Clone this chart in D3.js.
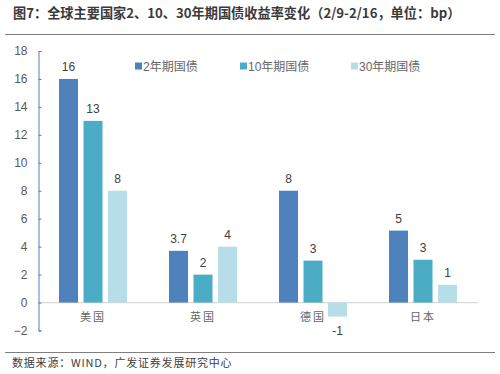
<!DOCTYPE html>
<html>
<head>
<meta charset="utf-8">
<script src="https://cdn.jsdelivr.net/npm/d3@7"></script>
<style>
  body { margin: 0; background: #fff; }
  svg { display: block; }
</style>
</head>
<body>
<svg></svg>
<script>
// data
let countries = ['美国', '英国', '德国', '日本']
let seriesNames = ['2年期国债', '10年期国债', '30年期国债']
let yr2 = [16, 3.7, 8, 5.15]
let yr10 = [13, 2, 3, 3.06]
let yr30 = [8, 4, -1, 1.27]
let labels2 = ['16', '3.7', '8', '5']
let labels10 = ['13', '2', '3', '3']
let labels30 = ['8', '4', '-1', '1']
let yTicks = [-2, 0, 2, 4, 6, 8, 10, 12, 14, 16, 18]

let colors = ['#4f81bd', '#4bacc6', '#b7dde8']
let width = 500
let height = 374

let svg = d3.select('svg').attr('width', width).attr('height', height)
let font = 'Liberation Sans, Arial, Noto Sans CJK SC, sans-serif'
let cjk = 'Noto Sans CJK SC, sans-serif'

// title and rules
svg.append('text')
  .attr('x', 13).attr('y', 18)
  .attr('font-family', cjk).attr('font-weight', 'bold')
  .attr('font-size', 13.2).attr('fill', '#3a3a3a')
  .text('图7：全球主要国家2、10、30年期国债收益率变化（2/9-2/16，单位：bp）')

svg.append('line').attr('x1', 5).attr('x2', 495).attr('y1', 34.5).attr('y2', 34.5)
  .attr('stroke', '#7f7f7f').attr('stroke-width', 1)
svg.append('line').attr('x1', 5).attr('x2', 495).attr('y1', 352.5).attr('y2', 352.5)
  .attr('stroke', '#7f7f7f').attr('stroke-width', 1)

svg.append('text')
  .attr('x', 12).attr('y', 367)
  .attr('font-family', cjk).attr('font-size', 11).attr('fill', '#404040')
  .attr('letter-spacing', 0.8)
  .text('数据来源：WIND，广发证券发展研究中心')

// scales
let xScale = d3.scaleBand().domain(countries).range([38, 478])
let x1 = d3.scaleBand().domain(seriesNames)
  .range([xScale.bandwidth() / 2 - 34, xScale.bandwidth() / 2 + 34])
  .paddingInner(0.224)
let yScale = d3.scaleLinear().domain([-2, 18]).range([330.5, 51])

// zero line
svg.append('line')
  .attr('x1', 38).attr('x2', 478)
  .attr('y1', yScale(0)).attr('y2', yScale(0))
  .attr('stroke', '#d9d9d9').attr('stroke-width', 1.3)

// y axis
let yAxis = d3.axisLeft(yScale).tickValues(yTicks).tickSizeInner(-3).tickSizeOuter(-3).tickPadding(11)
let gy = svg.append('g').attr('transform', 'translate(38.5,0)').call(yAxis)
gy.select('.domain').attr('stroke', '#4f81bd')
gy.selectAll('.tick line').attr('stroke', '#4f81bd')
gy.selectAll('.tick text').attr('font-family', font).attr('font-size', 12).attr('fill', '#595959')

// bars
let rows = countries.map((c, i) => ({
  country: c,
  vals: [yr2[i], yr10[i], yr30[i]],
  labs: [labels2[i], labels10[i], labels30[i]]
}))

let groups = svg.selectAll('.grp').data(rows).enter().append('g')
  .attr('transform', d => 'translate(' + xScale(d.country) + ',0)')

let cells = groups.selectAll('.cell')
  .data(d => d.vals.map((v, j) => ({ v: v, lab: d.labs[j], s: seriesNames[j], j: j })))
  .enter()

cells.append('rect')
  .attr('x', d => x1(d.s))
  .attr('width', x1.bandwidth())
  .attr('y', d => yScale(Math.max(0, d.v)))
  .attr('height', d => Math.abs(yScale(d.v) - yScale(0)))
  .attr('fill', d => colors[d.j])

cells.append('text')
  .attr('x', d => x1(d.s) + x1.bandwidth() / 2)
  .attr('y', d => d.v >= 0 ? yScale(d.v) - 8 : yScale(d.v) + 18)
  .attr('text-anchor', 'middle')
  .attr('font-family', font).attr('font-size', 12).attr('fill', '#404040')
  .text(d => d.lab)

// category labels
svg.selectAll('.cat').data(countries).enter().append('text')
  .attr('x', d => xScale(d) + xScale.bandwidth() / 2)
  .attr('y', 321)
  .attr('text-anchor', 'middle')
  .attr('font-family', cjk).attr('font-size', 11).attr('fill', '#666666')
  .attr('letter-spacing', 2)
  .text(d => d)

// legend
let legendX = [135, 240, 351]
let leg = svg.selectAll('.leg').data(seriesNames).enter().append('g')
  .attr('transform', (d, i) => 'translate(' + legendX[i] + ',66)')
leg.append('rect').attr('x', 0).attr('y', -3.5).attr('width', 7).attr('height', 7)
  .attr('fill', (d, i) => colors[i])
leg.append('text').attr('x', 8).attr('y', 4.5)
  .attr('font-family', font).attr('font-size', 12).attr('fill', '#666666')
  .text(d => d)
</script>
</body>
</html>
